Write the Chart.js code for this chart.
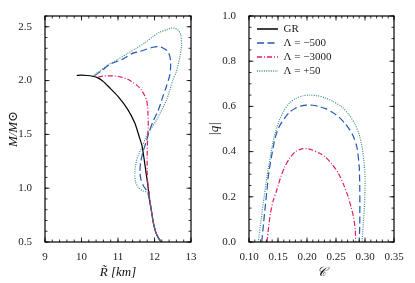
<!DOCTYPE html>
<html>
<head>
<meta charset="utf-8">
<script src="https://cdn.jsdelivr.net/npm/chart.js@4.4.1/dist/chart.umd.min.js"></script>
<style>
  body { margin: 0; background: #fff; }
  #wrap { position: relative; width: 415px; height: 283px; }
  #massChart { position: absolute; left: 0; top: 0; }
  #quadChart { position: absolute; left: 207px; top: 0; }
</style>
</head>
<body>
<div id="wrap">
  <canvas id="massChart" width="207" height="283"></canvas>
  <canvas id="quadChart" width="208" height="283"></canvas>
</div>
<script>
// series names
const seriesNames = ['GR', 'Λ = −500', 'Λ = −3000', 'Λ = +50'];

// left panel: mass vs radius
const grR = [9.87, 10.0, 10.15, 10.3, 10.45, 10.6, 10.75, 11.0, 11.27, 11.46, 11.58, 11.66, 11.72, 11.77, 11.82, 11.86, 11.92, 11.98, 12.07, 12.18];
const grM = [2.048, 2.05, 2.047, 2.04, 2.025, 1.99, 1.94, 1.853, 1.73, 1.605, 1.48, 1.39, 1.26, 1.14, 1.02, 0.9, 0.78, 0.66, 0.56, 0.5];

const m500R = [10.36, 10.55, 10.77, 11.09, 11.41, 11.59, 11.96, 12.1, 12.19, 12.37, 12.44, 12.44, 12.42, 12.33, 12.23, 12.1, 11.98, 11.86, 11.76, 11.68, 11.62, 11.6, 11.63, 11.7, 11.8, 11.86, 11.92, 11.98, 12.07, 12.18];
const m500M = [2.045, 2.09, 2.15, 2.193, 2.255, 2.27, 2.31, 2.315, 2.31, 2.27, 2.19, 2.115, 2.054, 1.95, 1.853, 1.72, 1.636, 1.53, 1.42, 1.33, 1.24, 1.15, 1.08, 1.02, 0.97, 0.9, 0.78, 0.66, 0.56, 0.5];

const m3000R = [10.45, 10.6, 10.73, 10.9, 11.09, 11.25, 11.37, 11.52, 11.64, 11.73, 11.78, 11.81, 11.82, 11.83, 11.81, 11.8, 11.8, 11.82, 11.85, 11.87, 11.92, 11.98, 12.07, 12.18];
const m3000M = [2.03, 2.042, 2.044, 2.042, 2.032, 2.015, 1.992, 1.955, 1.915, 1.86, 1.822, 1.76, 1.698, 1.574, 1.48, 1.29, 1.14, 1.04, 0.97, 0.9, 0.78, 0.66, 0.56, 0.5];

const p50R = [10.31, 10.5, 10.7, 10.96, 11.25, 11.5, 11.75, 11.96, 12.15, 12.33, 12.46, 12.56, 12.64, 12.72, 12.74, 12.69, 12.6, 12.5, 12.33, 12.05, 11.9, 11.78, 11.65, 11.51, 11.46, 11.48, 11.55, 11.68, 11.82, 11.87, 11.92, 11.98, 12.07, 12.18];
const p50M = [2.045, 2.09, 2.14, 2.19, 2.25, 2.3, 2.355, 2.41, 2.45, 2.472, 2.488, 2.485, 2.472, 2.426, 2.33, 2.21, 2.085, 2.0, 1.82, 1.63, 1.55, 1.48, 1.38, 1.26, 1.14, 1.06, 1.01, 0.975, 0.96, 0.9, 0.78, 0.66, 0.56, 0.5];

// right panel: |q| vs compactness
const m500C = [0.122, 0.125, 0.128, 0.131, 0.134, 0.139, 0.145, 0.152, 0.162, 0.17, 0.18, 0.19, 0.2, 0.21, 0.22, 0.232, 0.243, 0.255, 0.265, 0.274, 0.28, 0.286, 0.29, 0.291, 0.291, 0.29];
const m500Q = [0.0, 0.08, 0.157, 0.23, 0.305, 0.38, 0.46, 0.51, 0.55, 0.575, 0.592, 0.602, 0.606, 0.605, 0.6, 0.59, 0.575, 0.553, 0.526, 0.495, 0.467, 0.42, 0.334, 0.231, 0.084, 0.0];

const m3000C = [0.131, 0.134, 0.137, 0.142, 0.148, 0.155, 0.162, 0.17, 0.18, 0.191, 0.2, 0.208, 0.22, 0.231, 0.243, 0.254, 0.263, 0.271, 0.276, 0.28, 0.283, 0.284];
const m3000Q = [0.0, 0.07, 0.128, 0.185, 0.231, 0.29, 0.334, 0.37, 0.4, 0.412, 0.413, 0.408, 0.395, 0.378, 0.345, 0.305, 0.255, 0.2, 0.155, 0.113, 0.06, 0.0];

const p50C = [0.116, 0.121, 0.126, 0.131, 0.137, 0.143, 0.151, 0.16, 0.17, 0.18, 0.193, 0.205, 0.218, 0.231, 0.245, 0.26, 0.272, 0.283, 0.29, 0.295, 0.298, 0.3, 0.3, 0.299, 0.297, 0.295];
const p50Q = [0.0, 0.1, 0.2, 0.29, 0.38, 0.46, 0.53, 0.58, 0.615, 0.635, 0.647, 0.65, 0.647, 0.638, 0.622, 0.598, 0.565, 0.52, 0.475, 0.42, 0.36, 0.3, 0.23, 0.157, 0.08, 0.0];

// tick labels
const radiusTicks = [9, 10, 11, 12, 13];
const massTicks = [0.5, 1.0, 1.5, 2.0, 2.5];
const compTicks = [0.10, 0.15, 0.20, 0.25, 0.30, 0.35];
const qTicks = [0.0, 0.2, 0.4, 0.6, 0.8, 1.0];

const pts = (xs, ys) => xs.map((v, i) => ({ x: v, y: ys[i] }));

Chart.defaults.font.family = "'Liberation Serif', 'DejaVu Serif', serif";
Chart.defaults.font.size = 11;
Chart.defaults.color = '#222';

// matplotlib-like frame with inward ticks on all four sides
const inwardTicks = {
  id: 'inwardTicks',
  afterDraw(chart, args, opts) {
    const { ctx, chartArea: a, scales: { x, y } } = chart;
    const range = (min, max, step) => {
      const out = [];
      for (let v = min; v <= max + step / 2; v += step) out.push(Math.round(v / step) * step);
      return out;
    };
    ctx.save();
    ctx.strokeStyle = '#000';
    ctx.lineWidth = 0.8;
    const xMark = (v, len) => {
      const px = x.getPixelForValue(v);
      ctx.beginPath();
      ctx.moveTo(px, a.bottom); ctx.lineTo(px, a.bottom - len);
      ctx.moveTo(px, a.top); ctx.lineTo(px, a.top + len);
      ctx.stroke();
    };
    const yMark = (v, len) => {
      const py = y.getPixelForValue(v);
      ctx.beginPath();
      ctx.moveTo(a.left, py); ctx.lineTo(a.left + len, py);
      ctx.moveTo(a.right, py); ctx.lineTo(a.right - len, py);
      ctx.stroke();
    };
    range(x.min, x.max, opts.xMinor).forEach(v => xMark(v, 2.5));
    range(y.min, y.max, opts.yMinor).forEach(v => yMark(v, 2.5));
    x.ticks.forEach(t => xMark(t.value, 4.5));
    y.ticks.forEach(t => yMark(t.value, 4.5));
    ctx.lineWidth = 1.2;
    ctx.strokeRect(a.left, a.top, a.right - a.left, a.bottom - a.top);
    ctx.restore();
  }
};

// place the legend inside the plot area (top-left corner)
const legendShift = {
  id: 'legendShift',
  afterLayout(chart, args, opts) {
    const lg = chart.legend;
    if (lg) {
      const h = lg.height;
      lg.left = chart.chartArea.left + opts.dx;
      lg.top = chart.chartArea.top + opts.dy;
      lg.bottom = lg.top + h;
    }
  }
};

const styles = [
  { borderColor: '#000000', borderDash: [] },
  { borderColor: '#2456b4', borderDash: [7, 3.5] },
  { borderColor: '#de1f5a', borderDash: [5, 2, 1, 2] },
  { borderColor: '#3e8f86', borderDash: [1, 1.3] }
];

function makeSet(i, data) {
  return {
    label: seriesNames[i],
    data: data,
    showLine: true,
    pointRadius: 0,
    borderWidth: 1.2,
    tension: 0.25,
    borderColor: styles[i].borderColor,
    backgroundColor: styles[i].borderColor,
    borderDash: styles[i].borderDash,
    order: 4 - i
  };
}

function axis(min, max, ticks, decimals, title, width, height, pad, titlePad) {
  return {
    type: 'linear',
    min: min,
    max: max,
    grid: { display: false },
    border: { display: false },
    afterBuildTicks: s => { s.ticks = ticks.map(v => ({ value: v })); },
    afterFit: s => {
      if (width) s.width = width;
      if (height) s.height = height;
    },
    ticks: {
      padding: pad,
      autoSkip: false,
      maxRotation: 0,
      color: '#222',
      font: { size: 11 },
      callback: v => Number(v).toFixed(decimals)
    },
    title: {
      display: true,
      text: title,
      color: '#111',
      padding: titlePad,
      font: { size: 13, style: 'italic' }
    }
  };
}

const massChart = new Chart(document.getElementById('massChart'), {
  type: 'scatter',
  data: {
    datasets: [
      makeSet(0, pts(grR, grM)),
      makeSet(1, pts(m500R, m500M)),
      makeSet(2, pts(m3000R, m3000M)),
      makeSet(3, pts(p50R, p50M))
    ]
  },
  options: {
    responsive: false,
    animation: false,
    layout: { padding: { left: 0, right: 16, top: 16, bottom: 0 } },
    scales: {
      x: axis(9, 13, radiusTicks, 0, 'R\u0303 [km]', 0, 41, 1, { top: 0, bottom: 3 }),
      y: axis(0.5, 2.6, massTicks, 1, 'M/M\u2299', 45, 0, 5, { top: 6, bottom: 0 })
    },
    plugins: {
      legend: { display: false },
      tooltip: { enabled: false },
      inwardTicks: { xMinor: 0.2, yMinor: 0.1 }
    }
  },
  plugins: [inwardTicks]
});

const quadChart = new Chart(document.getElementById('quadChart'), {
  type: 'scatter',
  data: {
    datasets: [
      makeSet(0, []),
      makeSet(1, pts(m500C, m500Q)),
      makeSet(2, pts(m3000C, m3000Q)),
      makeSet(3, pts(p50C, p50Q))
    ]
  },
  options: {
    responsive: false,
    animation: false,
    layout: { padding: { left: 0, right: 21, top: 16, bottom: 0 } },
    scales: {
      x: axis(0.10, 0.35, compTicks, 2, '\uD835\uDC9E', 0, 41, 1, { top: 0, bottom: 3 }),
      y: axis(0, 1.0, qTicks, 1, '|q|', 42, 0, 5, { top: 0, bottom: 0 })
    },
    plugins: {
      legend: {
        position: 'chartArea',
        align: 'start',
        labels: {
          usePointStyle: true,
          pointStyle: 'line',
          pointStyleWidth: 21,
          padding: 3,
          color: '#222',
          font: { size: 11 },
          sort: (a, b) => a.datasetIndex - b.datasetIndex,
          generateLabels: chart => Chart.defaults.plugins.legend.labels.generateLabels(chart).map(item => {
            const ds = chart.data.datasets[item.datasetIndex];
            item.lineDash = ds.borderDash;
            item.strokeStyle = ds.borderColor;
            item.lineWidth = 1.5;
            return item;
          })
        }
      },
      legendShift: { dx: 5, dy: 4.5 },
      tooltip: { enabled: false },
      inwardTicks: { xMinor: 0.01, yMinor: 0.05 }
    }
  },
  plugins: [inwardTicks, legendShift]
});
</script>
</body>
</html>
